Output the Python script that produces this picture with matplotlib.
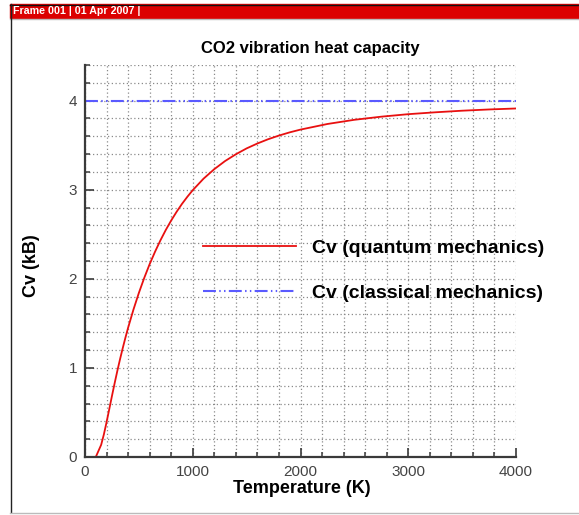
import numpy as np
import matplotlib
matplotlib.use("Agg")
import matplotlib.pyplot as plt
from matplotlib.patches import Rectangle
from matplotlib.lines import Line2D
from matplotlib.ticker import MultipleLocator

plt.rcParams['font.family'] = ['Liberation Sans', 'DejaVu Sans']

# temperature (K) and vibrational heat capacity of CO2 (units of kB)
temperature = [100, 150, 175, 200, 225, 250, 275, 300, 325, 350, 375,
               400, 450, 500, 550, 600, 650, 700, 750, 800, 850, 900, 950,
               1000, 1100, 1200, 1300, 1400, 1500, 1600, 1700, 1800, 1900,
               2000, 2250, 2500, 2750, 3000, 3250, 3500, 3750, 4000]
cv_quantum = [0.0, 0.137, 0.253, 0.390, 0.536, 0.684, 0.828, 0.966,
              1.097, 1.221, 1.339, 1.451, 1.656, 1.842, 2.011, 2.165, 2.304,
              2.432, 2.549, 2.655, 2.752, 2.841, 2.921, 2.995, 3.124, 3.231,
              3.322, 3.398, 3.464, 3.519, 3.567, 3.608, 3.644, 3.675, 3.738,
              3.785, 3.820, 3.848, 3.869, 3.887, 3.901, 3.912]
t_classical = [0, 4000]
cv_classical = [4.0, 4.0]

W, H = 579, 515
fig = plt.figure(figsize=(W / 100, H / 100), dpi=100)

# frame decoration: header strip and border
fig.patches.append(Rectangle((10 / W, 1 - 17.5 / H), 1, 13 / H,
                             transform=fig.transFigure, color='#dc0000', zorder=0))
fig.lines.append(Line2D([10 / W, 1], [1 - 4.5 / H] * 2, transform=fig.transFigure,
                        color='#111111', lw=1.0))
fig.lines.append(Line2D([10 / W, 1], [1 - 18.5 / H] * 2, transform=fig.transFigure,
                        color='#bbbbbb', lw=1.0))
fig.lines.append(Line2D([10.5 / W] * 2, [1 - 4 / H, 1 - 512 / H], transform=fig.transFigure,
                        color='#222222', lw=1.0))
fig.lines.append(Line2D([10 / W, 1], [1 - 512.5 / H] * 2, transform=fig.transFigure,
                        color='#bbbbbb', lw=1.0))
fig.text(13 / W, 1 - 11 / H, 'Frame 001 | 01 Apr 2007 |', color='white',
         fontsize=7.7, fontweight='bold', va='center', ha='left')

ax = fig.add_axes([85 / W, 1 - 457 / H, 431 / W, 392 / H])

ax.plot(temperature, cv_quantum, color='#e81010', lw=1.3,
        label='Cv (quantum mechanics)')
ax.plot(t_classical, cv_classical, color='#5a5aff', lw=1.5,
        dashes=[6.2, 1.6, 0.7, 1.6, 0.7, 1.6], label='Cv (classical mechanics)')

ax.set_xlim(0, 4000)
ax.set_ylim(0, 4.4)
ax.xaxis.set_major_locator(MultipleLocator(1000))
ax.xaxis.set_minor_locator(MultipleLocator(200))
ax.yaxis.set_major_locator(MultipleLocator(1))
ax.yaxis.set_minor_locator(MultipleLocator(0.2))

ax.grid(which='both', color='#8a8a8a', linestyle=(0, (1, 2)), lw=0.9)
ax.set_axisbelow(True)

for s in ['top', 'right']:
    ax.spines[s].set_visible(False)
for s in ['left', 'bottom']:
    ax.spines[s].set_linewidth(1.6)
    ax.spines[s].set_color('#3a3a3a')

ax.tick_params(which='major', direction='in', length=6.5, width=1.2,
               color='#3a3a3a', labelsize=11, labelcolor='#444444', pad=5.8)
ax.tick_params(which='minor', direction='in', length=3.6, width=1.1,
               color='#3a3a3a')

ax.set_xlabel('Temperature (K)', fontsize=13, fontweight='bold', va='center')
ax.xaxis.set_label_coords(0.503, -0.0815)
ax.set_ylabel('Cv (kB)', fontsize=13, fontweight='bold', va='center')
ax.yaxis.set_label_coords(-0.125, 0.487)

ax.text(0.522, 1.041, 'CO2 vibration heat capacity', transform=ax.transAxes,
        ha='center', va='center', fontsize=12, fontweight='bold')

ax.legend(loc='upper left', bbox_to_anchor=(0.274, 0.5555), frameon=False,
          borderpad=0, borderaxespad=0, handlelength=4.8, handletextpad=0.81,
          labelspacing=1.42, prop={'weight': 'bold', 'size': 14})

fig.savefig('out.png', dpi=100)
